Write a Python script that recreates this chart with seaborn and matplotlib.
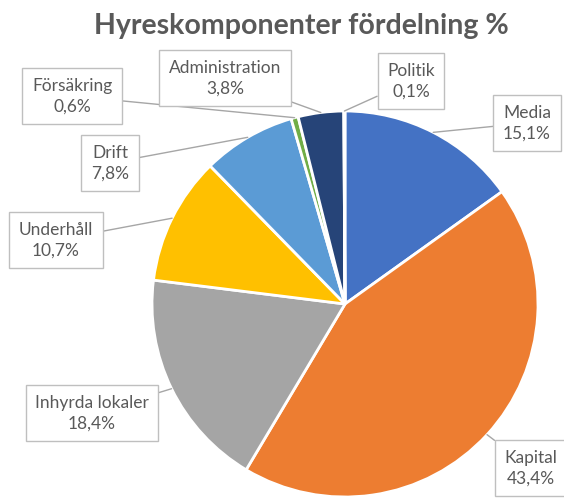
import numpy as np
import matplotlib
matplotlib.use("Agg")
import matplotlib.pyplot as plt
import seaborn as sns

# data
labels = ["Media", "Kapital", "Inhyrda lokaler", "Underhåll", "Drift",
          "Försäkring", "Administration", "Politik"]
shares = [15.1, 43.4, 18.4, 10.7, 7.8, 0.6, 3.8, 0.1]
share_text = ["15,1%", "43,4%", "18,4%", "10,7%", "7,8%", "0,6%", "3,8%", "0,1%"]
colors = ["#4472C4", "#ED7D31", "#A5A5A5", "#FFC000", "#5B9BD5",
          "#70AD47", "#264478", "#9E480E"]

# label box centres (pixel space, y measured from top)
box_pos = [(527, 123), (531, 468), (92, 413), (56, 240), (110, 163),
           (72, 96), (225, 78), (411, 81)]

sns.set_theme(style="white")
plt.rcParams["font.family"] = ["Lato", "DejaVu Sans"]

W, H = 564, 498
fig = plt.figure(figsize=(W / 100, H / 100), dpi=100)
ax = fig.add_axes([0, 0, 1, 1])

cx, cy, r = 345, H - 304, 193
wedges, _ = ax.pie(shares, colors=colors, startangle=90, counterclock=False,
                   center=(cx, cy), radius=r, frame=True,
                   wedgeprops=dict(edgecolor="white", linewidth=2))
ax.set_xlim(0, W)
ax.set_ylim(0, H)
ax.set_aspect("equal")
ax.axis("off")

for w, name, txt, (bx, by) in zip(wedges, labels, share_text, box_pos):
    ang = np.deg2rad((w.theta1 + w.theta2) / 2)
    px = cx + r * np.cos(ang)
    py = cy + r * np.sin(ang)
    ax.annotate(f"{name}\n{txt}", xy=(px, py), xytext=(bx, H - by),
                ha="center", va="center", fontsize=12.5, color="#595959",
                linespacing=1.35,
                bbox=dict(boxstyle="square,pad=0.55", fc="white", ec="#BFBFBF", lw=1),
                arrowprops=dict(arrowstyle="-", color="#A6A6A6", lw=1,
                                shrinkA=0, shrinkB=0))

ax.text(301, H - 26, "Hyreskomponenter fördelning %",
        ha="center", va="center", fontsize=20.5, fontweight="bold", color="#595959")

fig.savefig("out.png", dpi=100)
